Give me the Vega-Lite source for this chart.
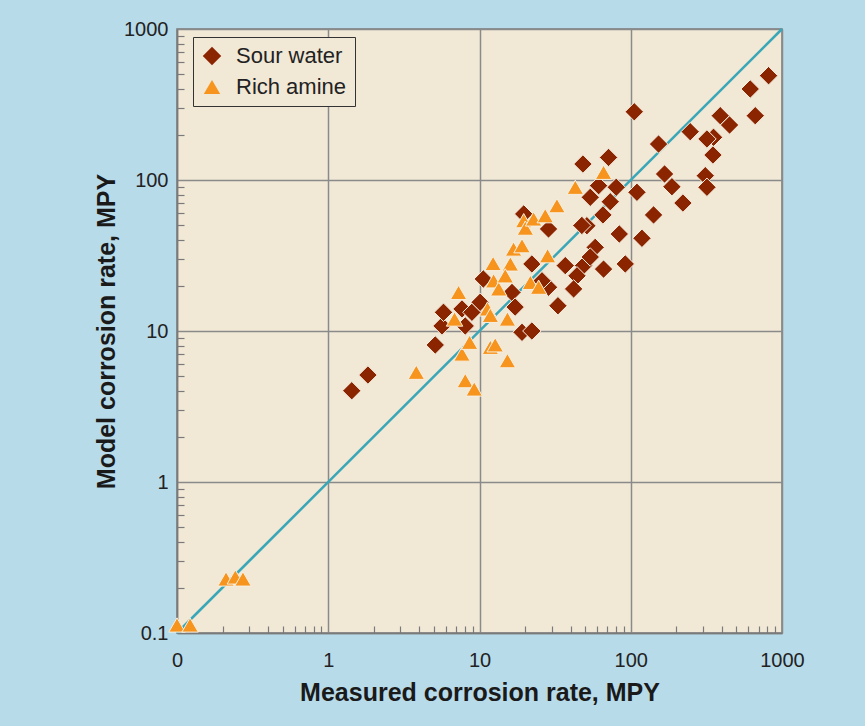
{
  "$schema": "https://vega.github.io/schema/vega-lite/v6.json",
  "width": 605,
  "height": 604,
  "autosize": {"type": "none"},
  "padding": {"left": 177, "top": 29, "right": 83, "bottom": 93},
  "background": "#b8dbea",
  "config": {
    "view": {"fill": "#f1e8d6", "stroke": "#7a7a7a", "strokeWidth": 1.5},
    "font": "Liberation Sans",
    "axis": {
      "labelFont": "Liberation Sans",
      "labelFontSize": 20,
      "labelColor": "#222222",
      "titleFont": "Liberation Sans",
      "titleFontSize": 25,
      "titleFontWeight": "bold",
      "titleColor": "#1a1a1a",
      "domainColor": "#7a7a7a",
      "domainWidth": 1.5,
      "tickColor": "#7a7a7a",
      "tickWidth": 1.2,
      "gridColor": "#8a8a8a",
      "gridWidth": 1.5
    },
    "legend": {
      "labelFont": "Liberation Sans",
      "labelFontSize": 22,
      "labelColor": "#222222",
      "fillColor": "#f1e8d6",
      "strokeColor": "#333333",
      "padding": 8,
      "rowPadding": 9,
      "labelOffset": 13,
      "symbolSize": 400,
      "symbolStrokeWidth": 0
    }
  },
  "datasets": {
    "diag": [
      {"x": 0.1, "y": 0.1},
      {"x": 1000, "y": 1000}
    ],
    "points": [
      {"series": "Sour water", "x": 1.43, "y": 4.02},
      {"series": "Sour water", "x": 1.83, "y": 5.11},
      {"series": "Sour water", "x": 5.1, "y": 8.08},
      {"series": "Sour water", "x": 5.65, "y": 10.8},
      {"series": "Sour water", "x": 5.78, "y": 13.3},
      {"series": "Sour water", "x": 7.66, "y": 14.0},
      {"series": "Sour water", "x": 8.91, "y": 13.3},
      {"series": "Sour water", "x": 8.05, "y": 10.8},
      {"series": "Sour water", "x": 10.1, "y": 15.5},
      {"series": "Sour water", "x": 10.6, "y": 22.1},
      {"series": "Sour water", "x": 16.4, "y": 18.0},
      {"series": "Sour water", "x": 17.2, "y": 14.4},
      {"series": "Sour water", "x": 19.1, "y": 9.8},
      {"series": "Sour water", "x": 22.2, "y": 10.0},
      {"series": "Sour water", "x": 33.0, "y": 14.7},
      {"series": "Sour water", "x": 28.6, "y": 19.5},
      {"series": "Sour water", "x": 25.9, "y": 21.5},
      {"series": "Sour water", "x": 22.2, "y": 27.8},
      {"series": "Sour water", "x": 19.6, "y": 59.6},
      {"series": "Sour water", "x": 28.6, "y": 47.4},
      {"series": "Sour water", "x": 36.9, "y": 27.1},
      {"series": "Sour water", "x": 48.8, "y": 27.1},
      {"series": "Sour water", "x": 44.1, "y": 23.2},
      {"series": "Sour water", "x": 66.1, "y": 25.7},
      {"series": "Sour water", "x": 92.0, "y": 27.8},
      {"series": "Sour water", "x": 41.9, "y": 19.0},
      {"series": "Sour water", "x": 51.3, "y": 49.8},
      {"series": "Sour water", "x": 47.5, "y": 50.0},
      {"series": "Sour water", "x": 58.2, "y": 35.8},
      {"series": "Sour water", "x": 54.0, "y": 30.9},
      {"series": "Sour water", "x": 84.0, "y": 43.9},
      {"series": "Sour water", "x": 118.6, "y": 41.1},
      {"series": "Sour water", "x": 65.5, "y": 58.7},
      {"series": "Sour water", "x": 73.2, "y": 71.8},
      {"series": "Sour water", "x": 54.0, "y": 76.8},
      {"series": "Sour water", "x": 61.3, "y": 91.7},
      {"series": "Sour water", "x": 80.2, "y": 89.5},
      {"series": "Sour water", "x": 109.9, "y": 82.9},
      {"series": "Sour water", "x": 71.3, "y": 141},
      {"series": "Sour water", "x": 48.3, "y": 127.6},
      {"series": "Sour water", "x": 105.5, "y": 283},
      {"series": "Sour water", "x": 152.7, "y": 173},
      {"series": "Sour water", "x": 167.3, "y": 109.6},
      {"series": "Sour water", "x": 187.2, "y": 90.3},
      {"series": "Sour water", "x": 221.3, "y": 70.4},
      {"series": "Sour water", "x": 141.5, "y": 58.7},
      {"series": "Sour water", "x": 247.3, "y": 208.9},
      {"series": "Sour water", "x": 311, "y": 106.8},
      {"series": "Sour water", "x": 319, "y": 89.5},
      {"series": "Sour water", "x": 352.6, "y": 191.8},
      {"series": "Sour water", "x": 319, "y": 187},
      {"series": "Sour water", "x": 349.6, "y": 146.4},
      {"series": "Sour water", "x": 390.6, "y": 266.6},
      {"series": "Sour water", "x": 450, "y": 231.3},
      {"series": "Sour water", "x": 616.7, "y": 400.6},
      {"series": "Sour water", "x": 665.6, "y": 266.6},
      {"series": "Sour water", "x": 815, "y": 490.8},
      {"series": "Rich amine", "x": 0.1, "y": 0.113},
      {"series": "Rich amine", "x": 0.122, "y": 0.113},
      {"series": "Rich amine", "x": 0.211, "y": 0.228},
      {"series": "Rich amine", "x": 0.243, "y": 0.235},
      {"series": "Rich amine", "x": 0.273, "y": 0.228},
      {"series": "Rich amine", "x": 3.82, "y": 5.33},
      {"series": "Rich amine", "x": 7.27, "y": 18.0},
      {"series": "Rich amine", "x": 6.84, "y": 12.0},
      {"series": "Rich amine", "x": 7.66, "y": 7.04},
      {"series": "Rich amine", "x": 8.6, "y": 8.42},
      {"series": "Rich amine", "x": 8.05, "y": 4.69},
      {"series": "Rich amine", "x": 9.23, "y": 4.13},
      {"series": "Rich amine", "x": 11.3, "y": 14.0},
      {"series": "Rich amine", "x": 11.8, "y": 12.7},
      {"series": "Rich amine", "x": 11.8, "y": 7.8},
      {"series": "Rich amine", "x": 12.7, "y": 8.1},
      {"series": "Rich amine", "x": 15.3, "y": 12.0},
      {"series": "Rich amine", "x": 15.3, "y": 6.36},
      {"series": "Rich amine", "x": 12.4, "y": 21.5},
      {"series": "Rich amine", "x": 13.4, "y": 19.0},
      {"series": "Rich amine", "x": 12.3, "y": 28.0},
      {"series": "Rich amine", "x": 16.0, "y": 27.8},
      {"series": "Rich amine", "x": 14.8, "y": 23.2},
      {"series": "Rich amine", "x": 21.7, "y": 21.0},
      {"series": "Rich amine", "x": 24.6, "y": 19.5},
      {"series": "Rich amine", "x": 16.8, "y": 34.9},
      {"series": "Rich amine", "x": 19.1, "y": 36.7},
      {"series": "Rich amine", "x": 28.2, "y": 31.5},
      {"series": "Rich amine", "x": 19.6, "y": 53.8},
      {"series": "Rich amine", "x": 20.1, "y": 48.0},
      {"series": "Rich amine", "x": 22.8, "y": 55.2},
      {"series": "Rich amine", "x": 27.2, "y": 58.0},
      {"series": "Rich amine", "x": 32.5, "y": 67.6},
      {"series": "Rich amine", "x": 43.0, "y": 89.5},
      {"series": "Rich amine", "x": 66.1, "y": 112.5}
    ]
  },
  "layer": [
    {
      "data": {"name": "diag"},
      "mark": {"type": "line", "color": "#3aa7b8", "strokeWidth": 2.5},
      "encoding": {
        "x": {
          "field": "x",
          "type": "quantitative",
          "scale": {"type": "log", "domain": [0.1, 1000], "nice": false},
          "axis": {
            "title": "Measured corrosion rate, MPY",
            "values": [0.1, 0.2, 0.3, 0.4, 0.5, 0.6, 0.7, 0.8, 0.9, 1, 2, 3, 4, 5, 6, 7, 8, 9, 10, 20, 30, 40, 50, 60, 70, 80, 90, 100, 200, 300, 400, 500, 600, 700, 800, 900, 1000],
            "labelExpr": "datum.value == 0.1 ? '0' : (indexof([1, 10, 100, 1000], datum.value) >= 0 ? format(datum.value, '~g') : '')",
            "labelOverlap": false,
            "labelFlush": false,
            "labelPadding": 24,
            "tickSize": -7,
            "tickOpacity": {"condition": {"test": "indexof([0.1, 1, 10, 100, 1000], datum.value) >= 0", "value": 0}, "value": 1},
            "grid": true,
            "gridOpacity": {"condition": {"test": "indexof([0.1, 1, 10, 100, 1000], datum.value) >= 0", "value": 1}, "value": 0},
            "titlePadding": 10
          }
        },
        "y": {
          "field": "y",
          "type": "quantitative",
          "scale": {"type": "log", "domain": [0.1, 1000], "nice": false},
          "axis": {
            "title": "Model corrosion rate, MPY",
            "values": [0.1, 0.2, 0.3, 0.4, 0.5, 0.6, 0.7, 0.8, 0.9, 1, 2, 3, 4, 5, 6, 7, 8, 9, 10, 20, 30, 40, 50, 60, 70, 80, 90, 100, 200, 300, 400, 500, 600, 700, 800, 900, 1000],
            "labelExpr": "indexof([0.1, 1, 10, 100, 1000], datum.value) >= 0 ? format(datum.value, '~g') : ''",
            "labelOverlap": false,
            "labelFlush": false,
            "labelPadding": 16,
            "tickSize": -7,
            "tickOpacity": {"condition": {"test": "indexof([0.1, 1, 10, 100, 1000], datum.value) >= 0", "value": 0}, "value": 1},
            "grid": true,
            "gridOpacity": {"condition": {"test": "indexof([0.1, 1, 10, 100, 1000], datum.value) >= 0", "value": 1}, "value": 0},
            "titlePadding": 4
          }
        }
      }
    },
    {
      "data": {"name": "points"},
      "mark": {"type": "point", "filled": true, "opacity": 1, "stroke": "#f7f0e2", "strokeWidth": 1},
      "encoding": {
        "x": {"field": "x", "type": "quantitative"},
        "y": {"field": "y", "type": "quantitative"},
        "color": {
          "field": "series",
          "type": "nominal",
          "scale": {"domain": ["Sour water", "Rich amine"], "range": ["#8b2500", "#f7941d"]},
          "legend": {"title": null, "orient": "none", "legendX": 16, "legendY": 8}
        },
        "shape": {
          "field": "series",
          "type": "nominal",
          "scale": {"domain": ["Sour water", "Rich amine"], "range": ["diamond", "triangle-up"]},
          "legend": {"title": null, "orient": "none", "legendX": 16, "legendY": 8}
        },
        "size": {
          "field": "series",
          "type": "nominal",
          "scale": {"domain": ["Sour water", "Rich amine"], "range": [340, 270]},
          "legend": null
        }
      }
    }
  ]
}
